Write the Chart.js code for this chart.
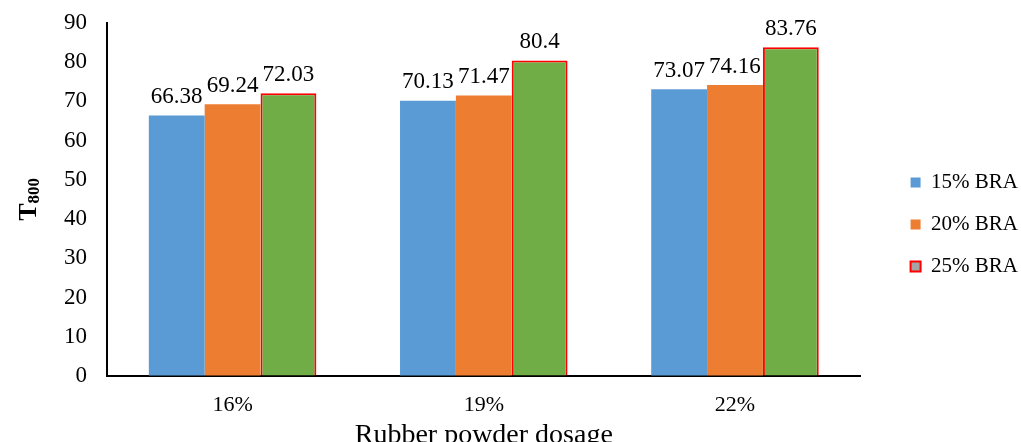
<!DOCTYPE html>
<html>
<head>
<meta charset="utf-8">
<script src="https://cdn.jsdelivr.net/npm/chart.js@4"></script>
<style>
  html, body { margin: 0; padding: 0; background: #fff; }
  #wrap { width: 1021px; height: 442px; }
</style>
</head>
<body>
<div id="wrap"><canvas id="graphique"></canvas></div>
<script>
// donnees du graphique
const categories = ["16%", "19%", "22%"];
const serie15 = [66.38, 70.13, 73.07];
const serie20 = [69.24, 71.47, 74.16];
const serie25 = [72.03, 80.4, 83.76];
const nomsSeries = ["15% BRA", "20% BRA", "25% BRA"];
const yTicks = [0, 10, 20, 30, 40, 50, 60, 70, 80, 90];

const police = "'Liberation Serif', 'DejaVu Serif', serif";

// valeurs au dessus des barres
const etiquettesPlugin = {
  id: "etiquettes",
  afterDatasetsDraw(chart) {
    const ctx = chart.ctx;
    ctx.save();
    ctx.font = "23px " + police;
    ctx.fillStyle = "#000";
    ctx.textAlign = "center";
    ctx.textBaseline = "bottom";
    chart.data.datasets.forEach((ds, i) => {
      chart.getDatasetMeta(i).data.forEach((bar, j) => {
        ctx.fillText(String(ds.data[j]), bar.x, bar.y - 7);
      });
    });
    ctx.restore();
  }
};

// titre de l'axe y avec indice (T800)
const titreYPlugin = {
  id: "titreY",
  afterDraw(chart) {
    const ctx = chart.ctx;
    const area = chart.chartArea;
    ctx.save();
    ctx.translate(29, (area.top + area.bottom) / 2);
    ctx.rotate(-Math.PI / 2);
    ctx.fillStyle = "#000";
    ctx.textBaseline = "middle";
    ctx.font = "bold 26px " + police;
    const wT = ctx.measureText("T").width;
    ctx.font = "bold 17px " + police;
    const wS = ctx.measureText("800").width;
    const x0 = -(wT + wS) / 2;
    ctx.font = "bold 26px " + police;
    ctx.fillText("T", x0, 0);
    ctx.font = "bold 17px " + police;
    ctx.fillText("800", x0 + wT, 6);
    ctx.restore();
  }
};

const data = {
  labels: categories,
  datasets: [
    { label: nomsSeries[0], data: serie15, backgroundColor: "#5B9BD5", borderWidth: 0 },
    { label: nomsSeries[1], data: serie20, backgroundColor: "#ED7D31", borderWidth: 0 },
    { label: nomsSeries[2], data: serie25, backgroundColor: "#70AD47", borderColor: "#FF0000", borderWidth: 2 }
  ]
};

const config = {
  type: "bar",
  data: data,
  options: {
    responsive: true,
    maintainAspectRatio: false,
    animation: false,
    datasets: { bar: { barPercentage: 1, categoryPercentage: 0.667 } },
    layout: { padding: { left: 55, top: -3, right: -7, bottom: -10 } },
    plugins: {
      tooltip: { enabled: false },
      legend: {
        position: "right",
        labels: {
          boxWidth: 10,
          boxHeight: 10,
          padding: 21,
          color: "#000",
          font: { family: police, size: 21 },
          generateLabels(chart) {
            const items = Chart.defaults.plugins.legend.labels.generateLabels(chart);
            // la 3e case de legende est grise avec bord rouge
            items[0].lineWidth = 0;
            items[1].lineWidth = 0;
            items[2].fillStyle = "#A5A5A5";
            items[2].strokeStyle = "#FF0000";
            items[2].lineWidth = 2;
            return items;
          }
        }
      }
    },
    scales: {
      x: {
        grid: { display: false, drawTicks: false },
        border: { color: "#000", width: 2 },
        ticks: { color: "#000", padding: 16, font: { family: police, size: 22 } },
        title: {
          display: true,
          text: "Rubber powder dosage",
          color: "#000",
          padding: { top: -16, bottom: 0 },
          font: { family: police, size: 28 }
        }
      },
      y: {
        min: 0,
        max: 90,
        afterBuildTicks(axis) {
          axis.ticks = yTicks.map((v) => ({ value: v }));
        },
        // graduations invisibles pour garder l'ecart des libelles
        grid: { display: true, drawOnChartArea: false, drawTicks: true, tickLength: 11, tickColor: "rgba(0,0,0,0)" },
        border: { color: "#000", width: 2 },
        ticks: { color: "#000", padding: 9, font: { family: police, size: 23 } }
      },
      // espace vide entre le graphique et la legende
      marge: {
        type: "linear",
        position: "right",
        display: true,
        grid: { display: false, drawTicks: false },
        border: { display: false },
        ticks: { display: false },
        afterFit(axis) {
          axis.width = 29;
        }
      }
    }
  },
  plugins: [etiquettesPlugin, titreYPlugin]
};

new Chart(document.querySelector("#graphique"), config);
</script>
</body>
</html>
